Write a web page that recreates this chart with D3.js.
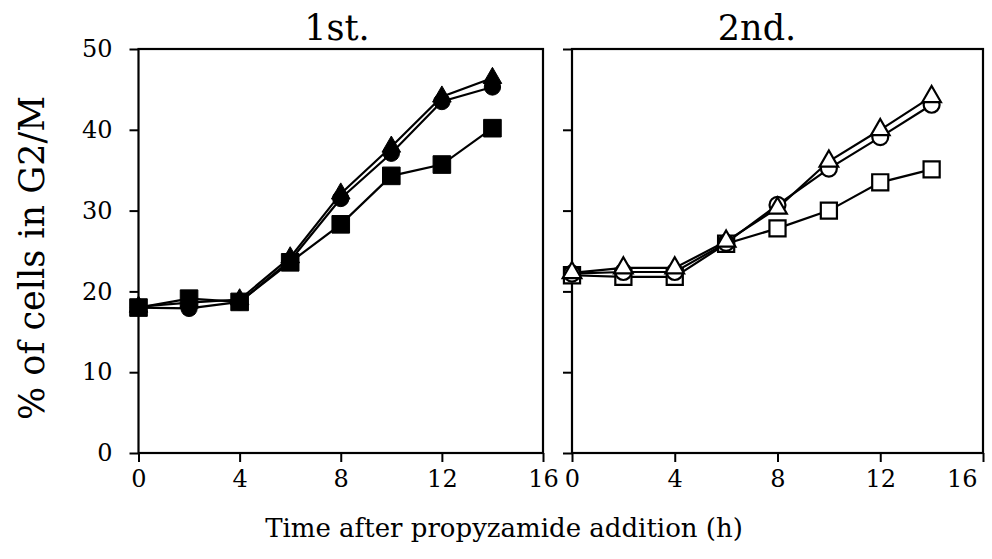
<!DOCTYPE html>
<html>
<head>
<meta charset="utf-8">
<script src="https://cdn.jsdelivr.net/npm/d3@7"></script>
<style>
  html, body { margin: 0; padding: 0; background: #fff; }
  svg { display: block; font-family: "DejaVu Serif", serif; }
</style>
</head>
<body>
<svg id="chart" width="992" height="559"></svg>
<script>
// Time points (h) after propyzamide addition
const hours = [0, 2, 4, 6, 8, 10, 12, 14];

// 1st. experiment (filled markers)
const first_circle   = [18.0, 17.9, 18.7, 23.8, 31.5, 37.1, 43.5, 45.3];
const first_triangle = [18.1, 18.6, 19.0, 24.2, 32.1, 37.9, 44.1, 46.4];
const first_square   = [18.0, 19.1, 18.7, 23.6, 28.3, 34.3, 35.7, 40.2];

// 2nd. experiment (open markers)
const second_square   = [22.0, 21.8, 21.8, 25.9, 27.8, 30.0, 33.5, 35.1];
const second_circle   = [22.2, 22.4, 22.4, 26.0, 30.7, 35.2, 39.1, 43.1];
const second_triangle = [22.3, 22.9, 22.9, 26.2, 30.3, 36.1, 40.0, 44.1];

const xTicks = [0, 4, 8, 12, 16];
const yTicks = [0, 10, 20, 30, 40, 50];
const panelTitles = ["1st.", "2nd."];
const yLabel = "% of cells in G2/M";
const xLabel = "Time after propyzamide addition (h)";

const svg = d3.select("#chart");

const y = d3.scaleLinear().domain([0, 50]).range([453, 49]);
const panels = [
  { title: panelTitles[0], x: d3.scaleLinear().domain([0, 16]).range([138.5, 543]),
    filled: true, titleX: 337, labels: true,
    series: [
      { values: first_square, shape: d3.symbolSquare, size: 310 },
      { values: first_triangle, shape: d3.symbolTriangle, size: 150 },
      { values: first_circle, shape: d3.symbolCircle, size: 210 }
    ] },
  { title: panelTitles[1], x: d3.scaleLinear().domain([0, 16]).range([572, 983]),
    filled: false, titleX: 757, labels: false,
    series: [
      { values: second_square, shape: d3.symbolSquare, size: 260 },
      { values: second_circle, shape: d3.symbolCircle, size: 200 },
      { values: second_triangle, shape: d3.symbolTriangle, size: 150 }
    ] }
];

panels.forEach((p, pi) => {
  const g = svg.append("g");
  const [x0, x1] = p.x.range();

  // y axis (ticks outward on the left)
  const ya = g.append("g").attr("transform", `translate(${x0},0)`)
    .call(d3.axisLeft(y).tickValues(yTicks).tickSize(9).tickPadding(17)
      .tickFormat(p.labels ? d3.format("d") : () => ""));
  // x axis (ticks outward below)
  const xa = g.append("g").attr("transform", `translate(0,${y(0)})`)
    .call(d3.axisBottom(p.x).tickValues(xTicks).tickSize(9).tickPadding(8)
      .tickFormat(d3.format("d")));
  [ya, xa].forEach(a => {
    a.select(".domain").remove();
    a.selectAll(".tick line").attr("stroke", "#000").attr("stroke-width", 2);
    a.selectAll(".tick text").attr("fill", "#000")
      .style("font-family", "DejaVu Serif, serif").style("font-size", "24px");
  });
  // keep the last tick label of the right-hand panel inside the page
  if (pi === panels.length - 1) {
    xa.selectAll(".tick text").filter(d => d === xTicks[xTicks.length - 1])
      .attr("text-anchor", "end").attr("dx", "-6");
  }

  // panel frame
  g.append("rect")
    .attr("x", x0).attr("y", y(50))
    .attr("width", x1 - x0).attr("height", y(0) - y(50))
    .attr("fill", "none").attr("stroke", "#000").attr("stroke-width", 2.2);

  // panel title
  g.append("text").attr("x", p.titleX).attr("y", 40)
    .attr("text-anchor", "middle").style("font-size", "35px")
    .text(p.title);

  const line = d3.line().x((d, i) => p.x(hours[i])).y(d => y(d));

  // connecting lines
  p.series.forEach(s => {
    g.append("path").datum(s.values).attr("d", line)
      .attr("fill", "none").attr("stroke", "#000").attr("stroke-width", 2.2);
  });

  // markers
  p.series.forEach(s => {
    g.append("g").selectAll("path").data(s.values).join("path")
      .attr("transform", (d, i) => `translate(${p.x(hours[i])},${y(d)})`)
      .attr("d", d3.symbol().type(s.shape).size(s.size))
      .attr("fill", p.filled ? "#000" : "#fff")
      .attr("stroke", "#000").attr("stroke-width", p.filled ? 1 : 2.2);
  });
});

// shared axis titles
svg.append("text")
  .attr("transform", "translate(44,258) rotate(-90)")
  .attr("text-anchor", "middle").style("font-size", "35px")
  .text(yLabel);

svg.append("text")
  .attr("x", 504).attr("y", 537)
  .attr("text-anchor", "middle").style("font-size", "26px")
  .text(xLabel);
</script>
</body>
</html>
